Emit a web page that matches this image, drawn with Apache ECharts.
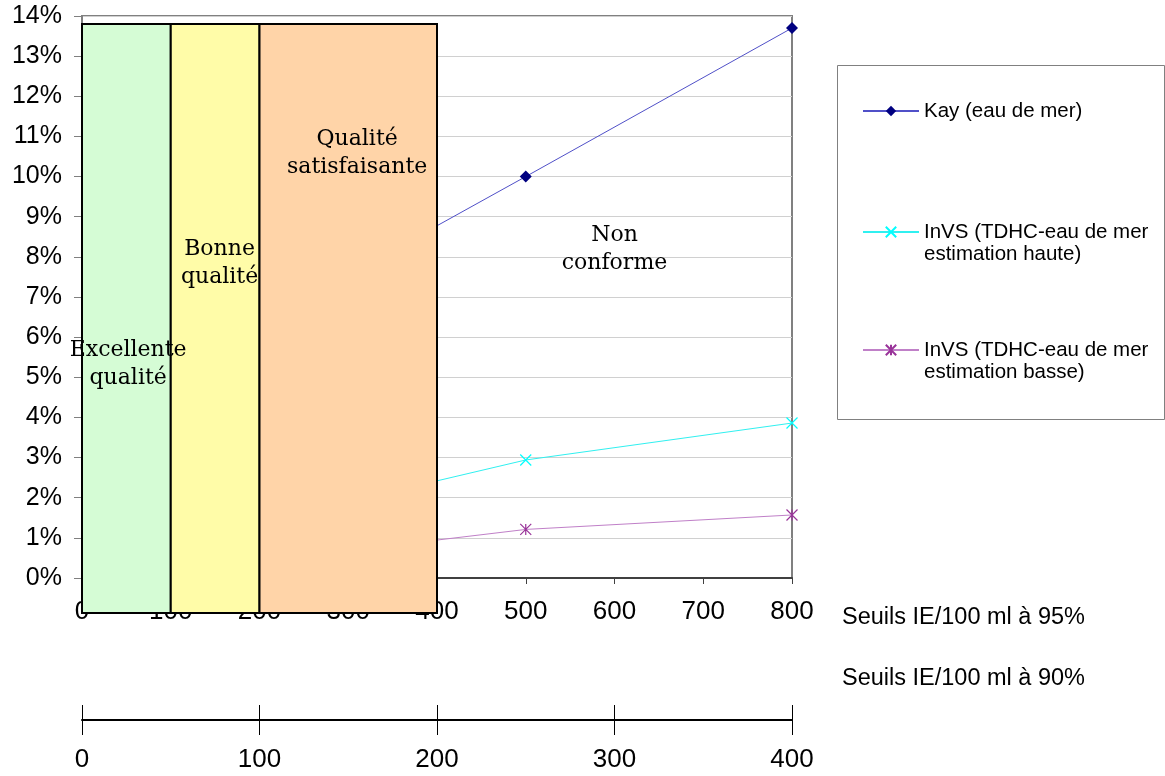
<!DOCTYPE html>
<html><head><meta charset="utf-8">
<script src="https://cdn.jsdelivr.net/npm/echarts@6/dist/echarts.min.js"></script>
<style>html,body{margin:0;padding:0;background:#fff}#c{width:1165px;height:776px}</style>
</head><body><div id="c"></div>
<script>
// ---- data ----
const xTicks95 = [0, 100, 200, 300, 400, 500, 600, 700, 800];
const xTicks90 = [0, 100, 200, 300, 400];
const seriesNames = ['Kay (eau de mer)', 'InVS (TDHC-eau de mer estimation haute)', 'InVS (TDHC-eau de mer estimation basse)'];
const seuils = [300, 500, 800];
const kay = [7.55, 10.0, 13.7];
const invsHaute = [1.9, 2.94, 3.86];
const invsBasse = [0.68, 1.21, 1.57];
const zoneNames = ['Excellente\nqualité', 'Bonne\nqualité', 'Qualité\nsatisfaisante', 'Non\nconforme'];
const zoneFrom = [0, 100, 200, 400];
const zoneTo = [100, 200, 400, 800];
const zoneLabelX = [52, 155, 310, 600];
const zoneLabelY = [5.33, 7.83, 10.58, 8.18];
const zoneTop = 13.8, zoneBottom = -0.87;
const axis95Name = 'Seuils IE/100 ml à 95%';
const axis90Name = 'Seuils IE/100 ml à 90%';

// ---- styles ----
const zoneFill = ['#d5fcd5', '#fffca8', '#ffd4a8', null];
const sans = 'Liberation Sans';

const chart = echarts.init(document.getElementById('c'));
const legendBase = {
  orient: 'vertical', left: 862, padding: 0, itemWidth: 56, itemHeight: 13,
  selectedMode: false,
  formatter: n => n.indexOf(' estimation') >= 0 ? '\n' + n.replace(' estimation', '\nestimation') : n,
  textStyle: { fontFamily: sans, fontSize: 20.5, color: '#000', lineHeight: 22 }
};
chart.setOption({
  animation: false,
  backgroundColor: '#fff',
  title: [
    { text: axis95Name, left: 842, top: 606, padding: 0, textStyle: { fontFamily: sans, fontSize: 23.5, fontWeight: 'normal', color: '#000' } },
    { text: axis90Name, left: 842, top: 667, padding: 0, textStyle: { fontFamily: sans, fontSize: 23.5, fontWeight: 'normal', color: '#000' } }
  ],
  graphic: [{ type: 'rect', left: 835, top: 63, shape: { width: 327, height: 354 }, style: { fill: 'none', stroke: '#808080', lineWidth: 1 }, z: 0 }],
  legend: [
    Object.assign({}, legendBase, { data: [seriesNames[0]], top: 100 }),
    Object.assign({}, legendBase, { data: [seriesNames[1]], top: 199 }),
    Object.assign({}, legendBase, { data: [seriesNames[2]], top: 317 })
  ],
  grid: { left: 82, right: 373, top: 16, bottom: 198, show: true, borderColor: '#808080', borderWidth: 2, backgroundColor: 'transparent' },
  xAxis: [
    { type: 'value', min: xTicks95[0], max: xTicks95[xTicks95.length - 1], interval: 100, position: 'bottom',
      axisLine: { lineStyle: { color: '#404040', width: 2 } },
      axisTick: { length: 6, lineStyle: { color: '#404040' } },
      axisLabel: { fontFamily: sans, fontSize: 26, color: '#000', margin: 21, lineHeight: 26 },
      splitLine: { show: false } },
    { type: 'value', min: xTicks90[0], max: xTicks90[xTicks90.length - 1], interval: 100, position: 'bottom', offset: 142,
      axisLine: { lineStyle: { color: '#000', width: 2 } },
      axisTick: { length: 15, lineStyle: { color: '#000', width: 1 } },
      axisLabel: { fontFamily: sans, fontSize: 26, color: '#000', margin: 27, lineHeight: 26 },
      splitLine: { show: false } },
    { type: 'value', min: xTicks90[0], max: xTicks90[xTicks90.length - 1], interval: 100, position: 'bottom', offset: 142,
      axisLine: { show: false },
      axisTick: { inside: true, length: 15, lineStyle: { color: '#000', width: 1 } },
      axisLabel: { show: false },
      splitLine: { show: false } }
  ],
  yAxis: {
    type: 'value', min: 0, max: 14, interval: 1,
    axisLine: { show: true, lineStyle: { color: '#808080', width: 1 } },
    axisTick: { show: true, length: 8, lineStyle: { color: '#808080' } },
    axisLabel: { formatter: '{value}%', fontFamily: sans, fontSize: 25, color: '#000', margin: 20 },
    splitLine: { lineStyle: { color: '#d0d0d0', width: 1 } }
  },
  series: [
    { name: seriesNames[0], type: 'line', data: seuils.map((s, i) => [s, kay[i]]),
      symbol: 'diamond', symbolSize: 12,
      itemStyle: { color: '#000080', borderWidth: 0 },
      lineStyle: { color: '#5050c8', width: 1 } },
    { name: seriesNames[1], type: 'line', data: seuils.map((s, i) => [s, invsHaute[i]]),
      symbol: 'path://M0,0L10,10M10,0L0,10', symbolSize: 11,
      itemStyle: { color: '#00ffff', borderColor: '#00ffff', borderWidth: 1.2 },
      lineStyle: { color: '#30f0f0', width: 1 } },
    { name: seriesNames[2], type: 'line', data: seuils.map((s, i) => [s, invsBasse[i]]),
      symbol: 'path://M0,0L10,10M10,0L0,10M5,0L5,10', symbolSize: 11,
      itemStyle: { color: '#993399', borderColor: '#993399', borderWidth: 1.2 },
      lineStyle: { color: '#c080c8', width: 1 } },
    { type: 'custom', z: 5, clip: false, silent: true,
      data: zoneFrom.map((f, i) => [f, zoneTo[i], zoneLabelX[i], zoneLabelY[i], i]),
      encode: { x: [0, 1], y: 3 },
      renderItem: function (params, api) {
        const i = api.value(4);
        const p0 = api.coord([api.value(0), zoneTop]);
        const p1 = api.coord([api.value(1), zoneBottom]);
        const lp = api.coord([api.value(2), api.value(3)]);
        const children = [];
        if (zoneFill[i]) {
          children.push({ type: 'rect', z2: 0,
            shape: { x: p0[0], y: p0[1], width: p1[0] - p0[0], height: p1[1] - p0[1] },
            style: { fill: zoneFill[i], stroke: '#000', lineWidth: 2 } });
        }
        children.push({ type: 'text', z2: 10, x: lp[0], y: lp[1],
          style: { text: zoneNames[i], font: '22px "DejaVu Serif"', fill: '#000', align: 'center', verticalAlign: 'middle', lineHeight: 28 } });
        return { type: 'group', children: children };
      } }
  ]
});
</script></body></html>
